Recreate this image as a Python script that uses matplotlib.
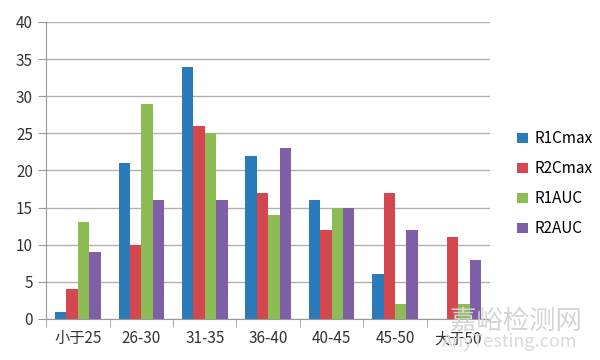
import numpy as np
import matplotlib
matplotlib.use('Agg')
import matplotlib.pyplot as plt

plt.rcParams['font.family'] = ['Noto Sans CJK SC', 'DejaVu Sans']

categories = ['小于25', '26-30', '31-35', '36-40', '40-45', '45-50', '大于50']
r1cmax = [1, 21, 34, 22, 16, 6, 0]
r2cmax = [4, 10, 26, 17, 12, 17, 11]
r1auc = [13, 29, 25, 14, 15, 2, 2]
r2auc = [9, 16, 16, 23, 15, 12, 8]

series = [('R1Cmax', r1cmax, '#2B7BBA'),
          ('R2Cmax', r2cmax, '#D4474E'),
          ('R1AUC', r1auc, '#8DBB54'),
          ('R2AUC', r2auc, '#7F5FA5')]

fig = plt.figure(figsize=(6, 3.6), dpi=100)
ax = fig.add_axes([0.077, 0.114, 0.74, 0.825])

x = np.arange(len(categories))
w = 0.18
for i, (name, vals, col) in enumerate(series):
    ax.bar(x + (i - 1.5) * w, vals, w, color=col, label=name, zorder=3)

ax.set_xlim(-0.5, len(categories) - 0.5)
ax.set_ylim(0, 40)
ax.set_yticks(range(0, 41, 5))
ax.set_xticks(x)
ax.set_xticklabels(categories)
ax.set_xticks(np.arange(-0.5, len(categories), 1), minor=True)
ax.tick_params(axis='x', which='major', length=0, pad=8, labelsize=11, colors='#333333')
ax.tick_params(axis='x', which='minor', length=6, color='#999999')
ax.tick_params(axis='y', length=6, color='#999999', labelsize=11, labelcolor='#333333')
ax.grid(axis='y', color='#b0b0b0', linewidth=1, zorder=0)
for s in ['top', 'right']:
    ax.spines[s].set_visible(False)
for s in ['left', 'bottom']:
    ax.spines[s].set_color('#999999')

ax.legend(loc='center left', bbox_to_anchor=(1.03, 0.455), frameon=False,
          handlelength=0.7, handleheight=0.7, handletextpad=0.4,
          labelspacing=0.85, fontsize=11)

# watermark
fig.text(0.75, 0.108, '嘉峪检测网', fontsize=19, color='#d4d4d4', ha='left', va='center', zorder=0)
fig.text(0.85, 0.05, 'AnyTesting.com', fontsize=13, color='#dadada', ha='center', va='center',
         style='italic', zorder=0)

fig.savefig('out.png', dpi=100)
